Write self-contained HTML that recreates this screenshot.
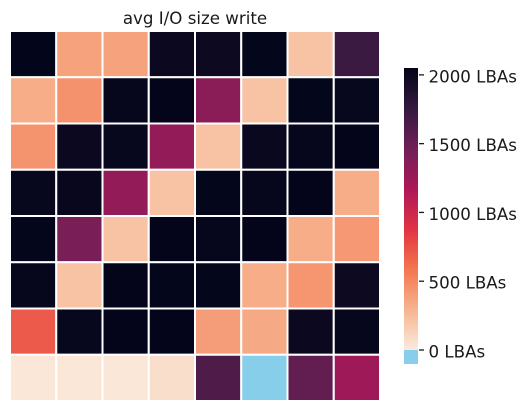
<!DOCTYPE html>
<html>
<head>
<meta charset="utf-8">
<style>
html,body{margin:0;padding:0;background:#fff;}
svg{display:block;}
text{font-family:"DejaVu Sans","Liberation Sans",sans-serif;fill:#1a1a1a;}
</style>
</head>
<body>
<svg id="chart" width="526" height="411" viewBox="0 0 526 411" xmlns="http://www.w3.org/2000/svg">
<rect width="526" height="411" fill="#ffffff"/>
<text x="195" y="24" font-size="16.67" text-anchor="middle">avg I/O size write</text>
<g id="cells"></g>
<g id="cbar"></g>
</svg>
<script>
const rowCount = 8;
const columnCount = 8;
const row1 = [2048, 378, 378, 2000, 1990, 2042, 215, 1732];
const row2 = [325, 455, 2030, 2046, 1339, 215, 2042, 2025];
const row3 = [445, 2000, 2025, 1300, 215, 2010, 2035, 2046];
const row4 = [2025, 2015, 1300, 215, 2042, 2035, 2046, 325];
const row5 = [2042, 1420, 215, 2046, 2035, 2046, 325, 425];
const row6 = [2035, 215, 2046, 2042, 2042, 325, 435, 1995];
const row7 = [709, 2025, 2046, 2046, 400, 345, 2000, 2035];
const row8 = [20, 20, 20, 69, 1628, -1, 1535, 1248];
const heatValues = [row1, row2, row3, row4, row5, row6, row7, row8];
const colorbarTicks = [0, 500, 1000, 1500, 2000];
const colorbarTickLabels = ["0 LBAs", "500 LBAs", "1000 LBAs", "1500 LBAs", "2000 LBAs"];
const valueMin = 0;
const valueMax = 2050;
const paletteColors = ["#03051a", "#35193e", "#701f57", "#ad1759", "#e13342", "#f37651", "#f6b48f", "#faebdd"];
const underColor = "#87ceeb";

const NS = "http://www.w3.org/2000/svg";
const plotLeft = 10, plotTop = 31, plotSize = 370;
const barLeft = 404, barWidth = 14, barTop = 68, barZero = 350, barBottom = 364;

function xScale(col) { return plotLeft + col * plotSize / columnCount; }
function yScale(row) { return plotTop + row * plotSize / rowCount; }
function barScale(v) { return barZero - (v - valueMin) / (valueMax - valueMin) * (barZero - barTop); }

function hexToRgb(h) {
  return [parseInt(h.slice(1, 3), 16), parseInt(h.slice(3, 5), 16), parseInt(h.slice(5, 7), 16)];
}
function colorFor(v) {
  if (v < valueMin) return underColor;
  const t = 1 - Math.min(1, (v - valueMin) / (valueMax - valueMin));
  const p = t * (paletteColors.length - 1);
  const i = Math.min(paletteColors.length - 2, Math.floor(p));
  const f = p - i;
  const a = hexToRgb(paletteColors[i]);
  const b = hexToRgb(paletteColors[i + 1]);
  return "rgb(" + a.map((c, k) => Math.round(c + (b[k] - c) * f)).join(",") + ")";
}

const cellsGroup = document.getElementById("cells");
heatValues.forEach((rowValues, r) => {
  rowValues.forEach((v, c) => {
    const cell = document.createElementNS(NS, "rect");
    cell.setAttribute("x", xScale(c));
    cell.setAttribute("y", yScale(r));
    cell.setAttribute("width", xScale(c + 1) - xScale(c));
    cell.setAttribute("height", yScale(r + 1) - yScale(r));
    cell.setAttribute("fill", colorFor(v));
    cell.setAttribute("stroke", "#ffffff");
    cell.setAttribute("stroke-width", "2");
    
    
    cellsGroup.appendChild(cell);
  });
});

const barGroup = document.getElementById("cbar");
const under = document.createElementNS(NS, "rect");
under.setAttribute("x", barLeft);
under.setAttribute("y", barZero);
under.setAttribute("width", barWidth);
under.setAttribute("height", barBottom - barZero);
under.setAttribute("fill", underColor);


barGroup.appendChild(under);

for (let y = barTop; y < barZero; y++) {
  const v = valueMin + (barZero - y - 0.5) / (barZero - barTop) * (valueMax - valueMin);
  const band = document.createElementNS(NS, "rect");
  band.setAttribute("x", barLeft);
  band.setAttribute("y", y);
  band.setAttribute("width", barWidth);
  band.setAttribute("height", 1);
  band.setAttribute("fill", colorFor(v));
  band.setAttribute("shape-rendering", "crispEdges");
  
  
  barGroup.appendChild(band);
}

colorbarTicks.forEach((v, i) => {
  const tick = document.createElementNS(NS, "line");
  tick.setAttribute("x1", barLeft + barWidth + 1);
  tick.setAttribute("x2", barLeft + barWidth + 6);
  tick.setAttribute("y1", barScale(v));
  tick.setAttribute("y2", barScale(v));
  tick.setAttribute("stroke", "#1a1a1a");
  tick.setAttribute("stroke-width", "1.3");
  
  
  barGroup.appendChild(tick);

  const label = document.createElementNS(NS, "text");
  label.setAttribute("x", 428.5);
  label.setAttribute("y", barScale(v) + 7.5);
  label.setAttribute("font-size", "16.67");
  label.textContent = colorbarTickLabels[i];
  
  
  barGroup.appendChild(label);
});
</script>
</body>
</html>
